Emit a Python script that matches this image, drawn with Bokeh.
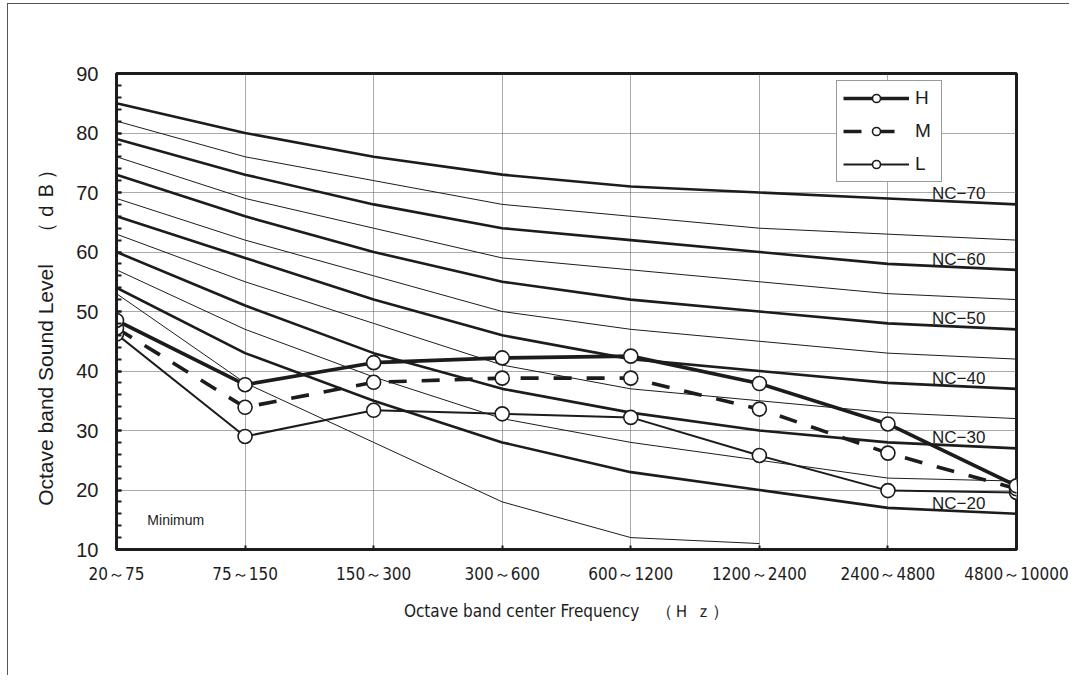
from bokeh.plotting import figure
from bokeh.models import FixedTicker, Legend, LegendItem, Label
from bokeh.embed import file_html
from bokeh.resources import INLINE
import numpy as np

# ---------------- data ----------------
bands = ["20～75", "75～150", "150～300", "300～600", "600～1200",
         "1200～2400", "2400～4800", "4800～10000"]

nc70 = [85, 80, 76, 73, 71, 70, 69, 68]
nc65 = [82, 76, 72, 68, 66, 64, 63, 62]
nc60 = [79, 73, 68, 64, 62, 60, 58, 57]
nc55 = [76, 69, 64, 59, 57, 55, 53, 52]
nc50 = [73, 66, 60, 55, 52, 50, 48, 47]
nc45 = [69, 62, 56, 50, 47, 45, 43, 42]
nc40 = [66, 59, 52, 46, 42, 40, 38, 37]
nc35 = [63, 55, 48, 41, 37, 35, 33, 32]
nc30 = [60, 51, 43, 37, 33, 30, 28, 27]
nc25 = [57, 47, 39, 32, 28, 25, 22, 21.5]
nc20 = [54, 43, 35, 28, 23, 20, 17, 16]
minimum = [53, 38, 28, 18, 12, 11]

level_H = [48.5, 37.7, 41.4, 42.2, 42.5, 37.9, 31.1, 20.7]
level_M = [47.2, 33.9, 38.1, 38.8, 38.8, 33.6, 26.2, 20.2]
level_L = [46.2, 29.0, 33.4, 32.8, 32.2, 25.8, 19.9, 19.6]

thick_curves = {"NC−70": nc70, "NC−60": nc60, "NC−50": nc50,
                "NC−40": nc40, "NC−30": nc30, "NC−20": nc20}
thin_curves = [nc65, nc55, nc45, nc35, nc25]

xs = list(range(len(bands)))
INK = "#1c1c1c"
XFONT = "DejaVu Sans Condensed"

p = figure(frame_width=900, frame_height=476, x_range=(0, 7), y_range=(10, 90),
           output_backend="svg", toolbar_location=None,
           min_border_left=108, min_border_right=53,
           min_border_top=69, min_border_bottom=126,
           background_fill_color="white", border_fill_color="white")
p.styles = {"border-left": "1px solid #555", "border-top": "1px solid #555",
            "margin-left": "7px", "margin-top": "3px"}

p.outline_line_color = INK
p.outline_line_width = 3
p.outline_line_alpha = 1

# grids
p.xgrid.ticker = FixedTicker(ticks=[1, 2, 3, 4, 5, 6])
p.ygrid.ticker = FixedTicker(ticks=[20, 30, 40, 50, 60, 70, 80])
for g in (p.xgrid, p.ygrid):
    g.grid_line_color = "#555555"
    g.grid_line_dash = "1 1"
    g.grid_line_width = 1

# x axis
p.xaxis.ticker = FixedTicker(ticks=xs)
p.xaxis.major_label_overrides = {i: b for i, b in enumerate(bands)}
p.xaxis.axis_line_width = 3
p.xaxis.axis_line_color = INK
p.xaxis.major_tick_in = 4
p.xaxis.major_tick_out = 0
p.xaxis.major_tick_line_width = 2
p.xaxis.major_tick_line_color = INK
p.xaxis.minor_tick_line_color = None
p.xaxis.major_label_standoff = 14
p.xaxis.major_label_text_font = XFONT
p.xaxis.major_label_text_font_size = "17px"
p.xaxis.major_label_text_color = INK
p.xaxis.axis_label = "Octave band center Frequency　（Ｈ ｚ）"
p.xaxis.axis_label_text_font = XFONT
p.xaxis.axis_label_text_font_size = "17px"
p.xaxis.axis_label_text_font_style = "normal"
p.xaxis.axis_label_text_color = INK
p.xaxis.axis_label_standoff = 14

# y axis
p.yaxis.ticker = FixedTicker(ticks=list(range(10, 91, 10)),
                             minor_ticks=list(range(10, 91, 2)))
p.yaxis.axis_line_width = 3
p.yaxis.axis_line_color = INK
p.yaxis.major_tick_in = 5
p.yaxis.major_tick_out = 0
p.yaxis.minor_tick_in = 5
p.yaxis.minor_tick_out = 0
p.yaxis.major_tick_line_width = 2
p.yaxis.minor_tick_line_width = 2
p.yaxis.major_tick_line_color = INK
p.yaxis.minor_tick_line_color = INK
p.yaxis.major_label_standoff = 18
p.yaxis.major_label_text_font = "Liberation Sans"
p.yaxis.major_label_text_font_size = "20px"
p.yaxis.major_label_text_color = INK
p.yaxis.axis_label = "Octave band Sound Level　（ｄＢ）　　"
p.yaxis.axis_label_text_font = "Liberation Sans"
p.yaxis.axis_label_text_font_size = "21px"
p.yaxis.axis_label_text_font_style = "normal"
p.yaxis.axis_label_text_color = INK
p.yaxis.axis_label_standoff = 16

# NC curves
for c in thin_curves:
    p.line(xs, c, line_width=1, line_color=INK)
for name, c in thick_curves.items():
    p.line(xs, c, line_width=2.6, line_color=INK)
p.line(xs[:len(minimum)], minimum, line_width=1, line_color=INK)

# NC labels placed just above each thick curve near the right edge
lab_x = 6.55
for name, c in thick_curves.items():
    ly = float(np.interp(lab_x, xs, c)) + 1.3
    p.add_layout(Label(x=lab_x, y=ly, text=name, text_align="center",
                       text_baseline="middle", text_font="Liberation Sans",
                       text_font_size="17px", text_color=INK))

p.add_layout(Label(x=0.24, y=15, text="Minimum", text_align="left",
                   text_baseline="middle", text_font="Liberation Sans",
                   text_font_size="14px", text_color=INK))

# measured series
rH = p.line(xs, level_H, line_width=3.6, line_color=INK)
rM = p.line(xs, level_M, line_width=3.6, line_color=INK, line_dash="18 15")
rL = p.line(xs, level_L, line_width=2, line_color=INK)
mk = dict(size=14, marker="circle", fill_color="white", line_color=INK, line_width=1.6)
sL = p.scatter(xs, level_L, **mk)
sM = p.scatter(xs, level_M, **mk)
sH = p.scatter(xs, level_H, **mk)

legend = Legend(items=[LegendItem(label="H", renderers=[rH, sH]),
                       LegendItem(label="M", renderers=[rM, sM]),
                       LegendItem(label="L", renderers=[rL, sL])],
                location=(720, 367), orientation="vertical",
                glyph_width=66, glyph_height=20, spacing=11, padding=6,
                label_standoff=6, label_text_font="Liberation Sans",
                label_text_font_size="19px", label_text_color=INK,
                border_line_color="#333333", border_line_width=1,
                background_fill_color="white", background_fill_alpha=1,
                margin=0)
p.add_layout(legend, "center")

open("out.html", "w").write(file_html(p, INLINE))
